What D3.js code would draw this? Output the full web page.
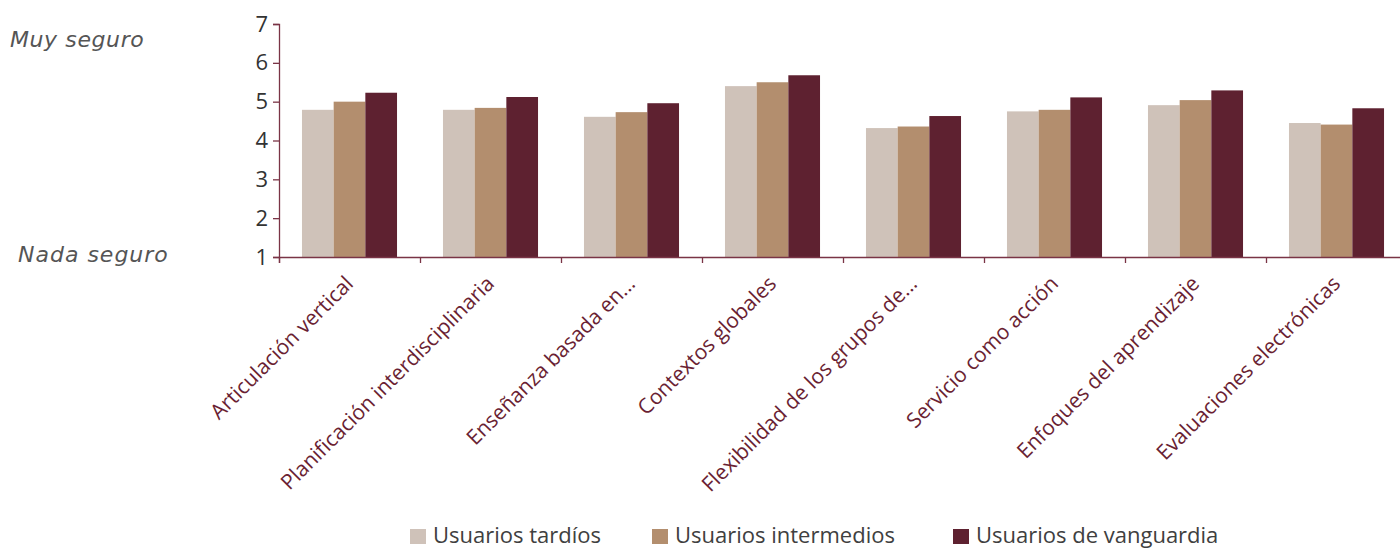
<!DOCTYPE html>
<html>
<head>
<meta charset="utf-8">
<script src="https://cdn.jsdelivr.net/npm/d3@7"></script>
<style>
  html, body { margin: 0; padding: 0; background: #fff; }
  svg { display: block; }
</style>
</head>
<body>
<svg id="chart" width="1400" height="550"></svg>
<script>
const categories = [
  "Articulación vertical",
  "Planificación interdisciplinaria",
  "Enseñanza basada en...",
  "Contextos globales",
  "Flexibilidad de los grupos de...",
  "Servicio como acción",
  "Enfoques del aprendizaje",
  "Evaluaciones electrónicas"
];
const seriesNames = ["Usuarios tardíos", "Usuarios intermedios", "Usuarios de vanguardia"];
const tardios      = [4.79, 4.79, 4.61, 5.40, 4.32, 4.75, 4.91, 4.45];
const intermedios  = [5.00, 4.84, 4.73, 5.50, 4.36, 4.79, 5.04, 4.41];
const vanguardia   = [5.23, 5.12, 4.96, 5.68, 4.63, 5.11, 5.29, 4.83];
const yTicks = [1, 2, 3, 4, 5, 6, 7];
const colors = ["#cfc2b9", "#b38e6e", "#5e2130"];

const seriesValues = [tardios, intermedios, vanguardia];
const svg = d3.select("#chart");

const plotLeft = 279, plotRight = 1407, plotTop = 24, plotBottom = 257;
const axisColor = "#7a3446";

const x0 = d3.scaleBand().domain(categories).range([plotLeft, plotRight]).paddingInner(0).paddingOuter(0);
const x1 = d3.scaleBand().domain(seriesNames).range([0, x0.bandwidth()]).paddingInner(0).paddingOuter(0.725);
const y = d3.scaleLinear().domain([1, 7]).range([plotBottom, plotTop]);

// bars
const g = svg.append("g");
categories.forEach((c, i) => {
  seriesNames.forEach((s, j) => {
    const v = seriesValues[j][i];
    g.append("rect")
      .attr("x", x0(c) + x1(s))
      .attr("y", y(v))
      .attr("width", x1.bandwidth())
      .attr("height", y(1) - y(v))
      .attr("fill", colors[j]);
  });
});

// y axis
const yAxis = svg.append("g")
  .attr("transform", `translate(${plotLeft},0)`)
  .call(d3.axisLeft(y).tickValues(yTicks).tickSize(6).tickPadding(5).tickFormat(d3.format("d")));
yAxis.select(".domain").attr("stroke", axisColor).attr("stroke-width", 1.3);
yAxis.selectAll(".tick line").attr("stroke", axisColor).attr("stroke-width", 1.3);
yAxis.selectAll(".tick text")
  .attr("fill", "#333")
  .style("font-family", "'Open Sans', sans-serif")
  .style("font-size", "22px");

// x axis (boundary ticks)
const xb = d3.scaleLinear().domain([0, categories.length]).range([plotLeft, plotRight]);
const xAxis = svg.append("g")
  .attr("transform", `translate(0,${plotBottom})`)
  .call(d3.axisBottom(xb).tickValues(d3.range(0, categories.length + 1)).tickSize(6).tickFormat(""));
xAxis.select(".domain").attr("stroke", axisColor).attr("stroke-width", 1.3);
xAxis.selectAll(".tick line").attr("stroke", axisColor).attr("stroke-width", 1.3);

// category labels
svg.append("g").selectAll("text")
  .data(categories)
  .join("text")
  .attr("transform", d => `translate(${x0(d) + x0.bandwidth() / 2 + 5},${plotBottom + 28}) rotate(-45)`)
  .attr("text-anchor", "end")
  .attr("fill", "#6a1f33")
  .style("font-family", "'Open Sans', sans-serif")
  .style("font-size", "21px")
  .text(d => d);

// side labels
svg.append("text").attr("x", 10).attr("y", 47)
  .attr("fill", "#555")
  .style("font-family", "'DejaVu Sans', sans-serif")
  .style("font-style", "italic")
  .style("font-size", "22px")
  .style("letter-spacing", "0.6px")
  .text("Muy seguro");
svg.append("text").attr("x", 18).attr("y", 262)
  .attr("fill", "#555")
  .style("font-family", "'DejaVu Sans', sans-serif")
  .style("font-style", "italic")
  .style("font-size", "22px")
  .style("letter-spacing", "1px")
  .text("Nada seguro");

// legend
const legendX = [410, 652, 953];
const leg = svg.append("g");
seriesNames.forEach((s, j) => {
  leg.append("rect").attr("x", legendX[j]).attr("y", 529).attr("width", 16).attr("height", 15).attr("fill", colors[j]);
  leg.append("text").attr("x", legendX[j] + 23).attr("y", 543)
    .attr("fill", "#404040")
    .style("font-family", "'Open Sans', sans-serif")
    .style("font-size", "22px")
    .text(s);
});
</script>
</body>
</html>
